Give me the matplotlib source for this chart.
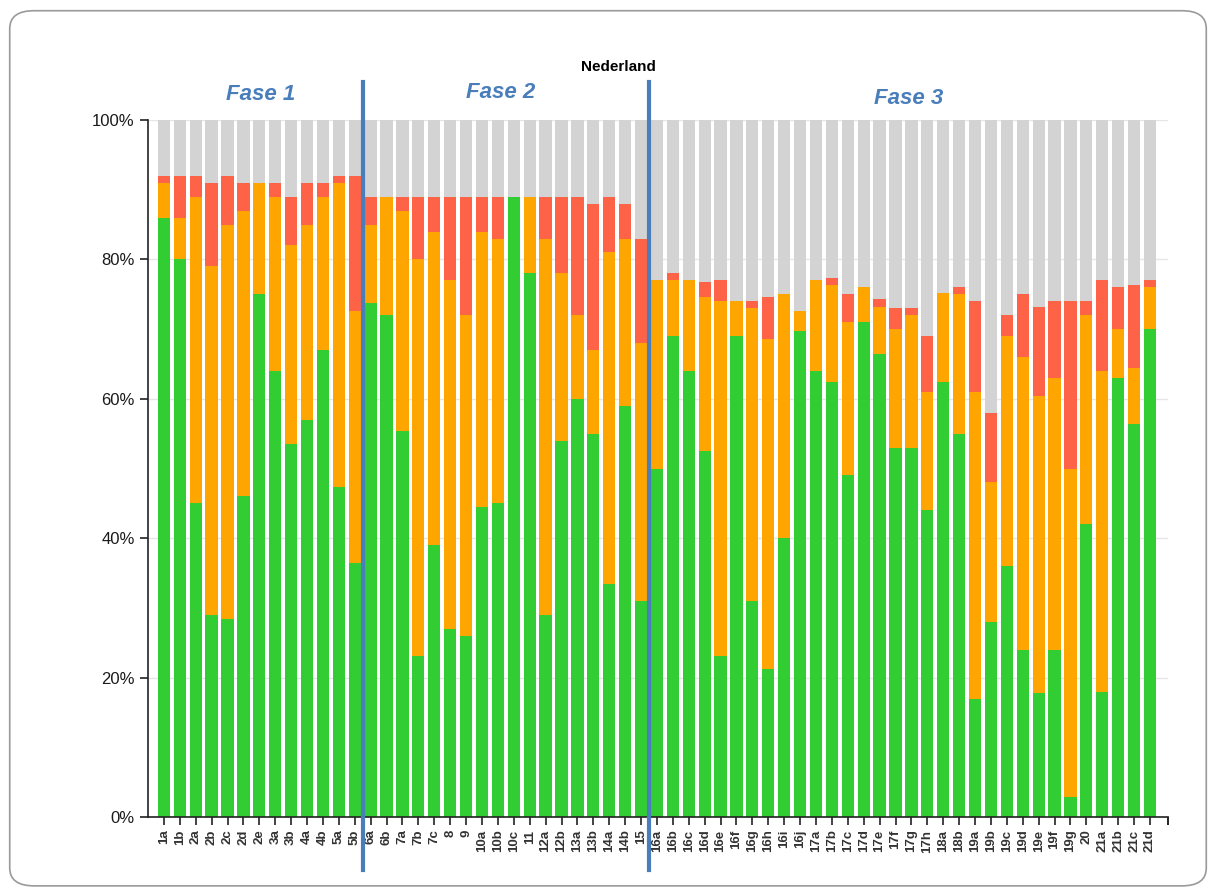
import matplotlib
matplotlib.use("Agg")
import numpy as np
import matplotlib.pyplot as plt
from matplotlib.patches import FancyBboxPatch

plt.rcParams["font.family"] = ["Liberation Sans", "DejaVu Sans"]

labels = ["1a", "1b", "2a", "2b", "2c", "2d", "2e", "3a", "3b", "4a", "4b", "5a", "5b",
          "6a", "6b", "7a", "7b", "7c", "8", "9", "10a", "10b", "10c", "11", "12a", "12b",
          "13a", "13b", "14a", "14b", "15",
          "16a", "16b", "16c", "16d", "16e", "16f", "16g", "16h", "16i", "16j",
          "17a", "17b", "17c", "17d", "17e", "17f", "17g", "17h", "18a", "18b",
          "19a", "19b", "19c", "19d", "19e", "19f", "19g", "20", "21a", "21b", "21c", "21d"]

# shares in % per item (green / orange / red); grey fills up to 100
green = [86, 80, 45, 29, 28.4, 46, 75, 64, 53.5, 57, 67, 47.3, 36.4,
         73.7, 72, 55.4, 23.1, 39, 27, 26, 44.5, 45, 89, 78, 29, 54,
         60, 55, 33.4, 59, 31,
         50, 69, 64, 52.5, 23.1, 69, 31, 21.2, 40, 69.7,
         64, 62.4, 49, 71, 66.4, 53, 53, 44, 62.4, 55,
         17, 28, 36, 24, 17.8, 24, 2.9, 42, 18, 63, 56.4, 70]
orange = [5, 6, 44, 50, 56.6, 41, 16, 25, 28.5, 28, 22, 43.7, 36.2,
          11.3, 17, 31.6, 56.9, 45, 50, 46, 39.5, 38, 0, 11, 54, 24,
          12, 12, 47.6, 24, 37,
          27, 8, 13, 22.1, 50.9, 5, 42, 47.4, 35, 2.9,
          13, 13.9, 22, 5, 6.8, 17, 19, 17, 12.8, 20,
          44, 20, 33, 42, 42.6, 39, 47.1, 30, 46, 7, 8, 6]
red = [1, 6, 3, 12, 7, 4, 0, 2, 7, 6, 2, 1, 19.4,
       4, 0, 2, 9, 5, 12, 17, 5, 6, 0, 0, 6, 11,
       17, 21, 8, 5, 15,
       0, 1, 0, 2.2, 3, 0, 1, 6, 0, 0,
       0, 1, 4, 0, 1.1, 3, 1, 8, 0, 1,
       13, 10, 3, 9, 12.8, 11, 24, 2, 13, 6, 11.9, 1]

phases = ["Fase 1", "Fase 2", "Fase 3"]
phase_breaks = ["6a", "16a"]   # first item of phase 2 and phase 3

GREEN, ORANGE, RED, GREY = "#32CD32", "#FFA500", "#FF6347", "#D3D3D3"
BLUE = "#4A7EBB"


def main():
    g = np.array(green)
    o = np.array(orange)
    r = np.array(red)
    grey = 100 - (g + o + r)
    x = np.arange(len(labels))
    w = 0.77

    fig = plt.figure(figsize=(12.16, 8.93), dpi=100)
    frame = FancyBboxPatch((0.008, 0.008), 0.984, 0.98,
                           boxstyle="round,pad=0,rounding_size=0.02",
                           transform=fig.transFigure, facecolor="none",
                           edgecolor="#9a9a9a", linewidth=1.2, zorder=-1)
    fig.patches.append(frame)
    ax = fig.add_axes([0.1217, 0.0851, 0.8388, 0.7805])
    ax.set_facecolor("none")

    ax.bar(x, g, w, color=GREEN, zorder=2)
    ax.bar(x, o, w, bottom=g, color=ORANGE, zorder=2)
    ax.bar(x, r, w, bottom=g + o, color=RED, zorder=2)
    ax.bar(x, grey, w, bottom=g + o + r, color=GREY, zorder=2)

    ax.set_xlim(-1.0, len(labels) + 0.13)
    ax.set_ylim(0, 100)
    ax.set_yticks(range(0, 101, 20))
    ax.set_yticklabels([f"{v}%" for v in range(0, 101, 20)], fontsize=12, color="#1a1a1a")
    ax.set_xticks(x)
    ax.set_xticklabels(labels, rotation=90, fontsize=9.5, fontweight="bold", color="#333333")
    ax.set_xticks([len(labels) + 0.13], minor=True)
    ax.tick_params(axis="both", length=6, width=1.2, color="#222222")
    ax.tick_params(axis="x", which="minor", length=6, width=1.2)
    ax.tick_params(axis="x", pad=3)
    ax.yaxis.grid(True, color="#e6e6e6", linewidth=1)
    ax.set_axisbelow(True)
    for s in ["top", "right"]:
        ax.spines[s].set_visible(False)
    for s in ["left", "bottom"]:
        ax.spines[s].set_color("#222222")
        ax.spines[s].set_linewidth(1.2)

    ax.set_title("Nederland", fontsize=11, fontweight="bold", pad=35, x=0.461)

    # phase separators
    breaks = [labels.index(b) - 0.5 for b in phase_breaks]
    for b in breaks:
        ax.axvline(b, ymin=-0.076, ymax=1.0545, color=BLUE, linewidth=3, clip_on=False, zorder=5)

    edges = [-1.0] + breaks + [len(labels)]
    text_x = [(edges[0] + edges[1]) / 2 + 0.35, (edges[1] + edges[2]) / 2 - 0.3,
              (edges[2] + edges[3]) / 2 + 0.1]
    text_y = [103.6, 103.9, 103.1]
    for name, tx, ty in zip(phases, text_x, text_y):
        ax.text(tx, ty, name, color=BLUE, fontsize=16, fontweight="bold",
                fontstyle="italic", ha="center", va="center")

    fig.savefig("out.png", dpi=100)
    plt.close(fig)


if __name__ == "__main__":
    main()
